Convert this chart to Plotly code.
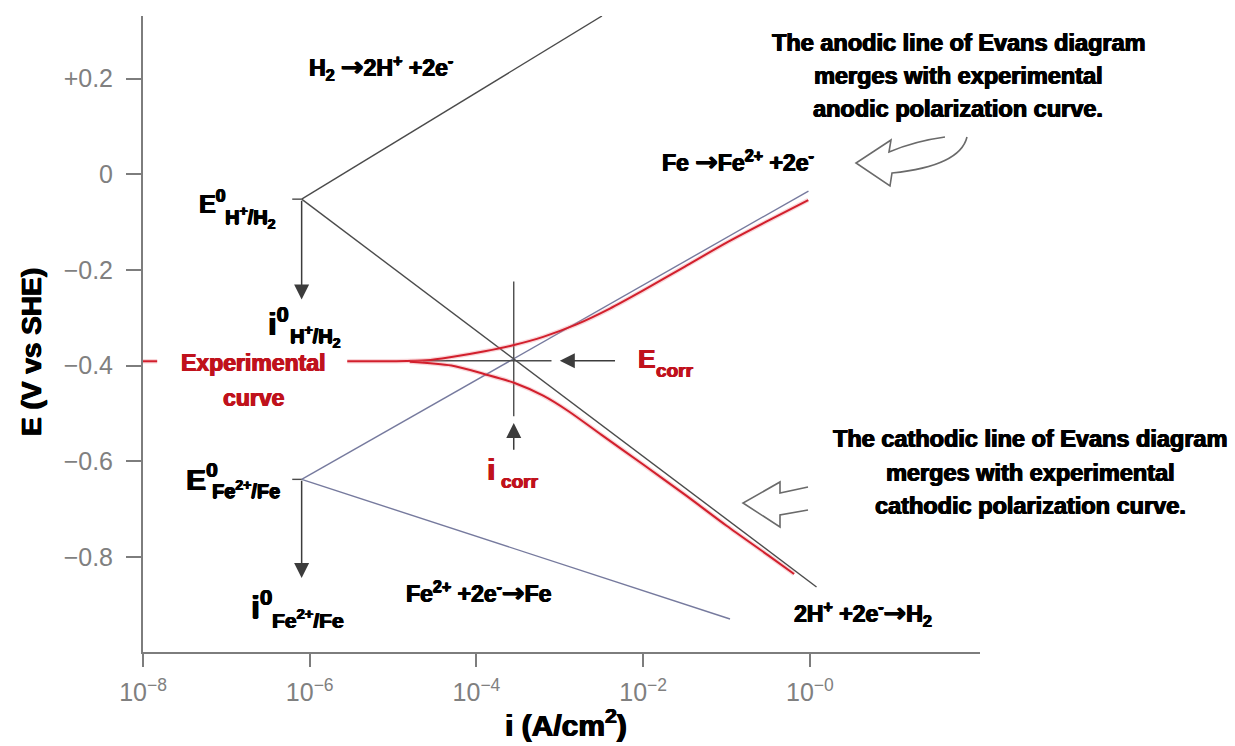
import math
import plotly.graph_objects as go

# ---- Evans diagram lines: current density (A/cm2) vs potential (V vs SHE) ----
h_anodic_i = [8.0e-7, 3.2e-3]
h_anodic_E = [-0.052, 0.331]
h_cathodic_i = [8.0e-7, 1.2]
h_cathodic_E = [-0.052, -0.863]
fe_anodic_i = [8.0e-7, 0.96]
fe_anodic_E = [-0.638, -0.035]
fe_cathodic_i = [8.0e-7, 0.11]
fe_cathodic_E = [-0.638, -0.930]

# exchange points and corrosion point
E0_H, i0_H = -0.052, 8.0e-7
E0_Fe, i0_Fe = -0.638, 8.0e-7
E_corr, i_corr = -0.39, 2.8e-4

# ---- experimental polarization curve (decade exponent of i, E) ----
# short visible stub left of the label, then the two branches
exp_stub_dec = [-8.0, -7.83]
exp_stub_E = [-0.391, -0.391]
exp_anodic_dec = [-5.55, -5.0, -4.6, -4.3, -3.9, -3.55, -3.2, -2.8, -2.4, -2.0, -1.5, -1.0, -0.5, -0.02]
exp_anodic_E = [-0.391, -0.391, -0.389, -0.382, -0.370, -0.357, -0.340, -0.314, -0.281, -0.243, -0.193, -0.143, -0.097, -0.054]
exp_cathodic_dec = [-4.8, -4.3, -3.9, -3.55, -3.2, -2.9, -2.5, -2.0, -1.5, -1.0, -0.5, -0.19]
exp_cathodic_E = [-0.392, -0.400, -0.418, -0.436, -0.463, -0.495, -0.545, -0.607, -0.670, -0.735, -0.797, -0.836]

# ---- axis ticks ----
x_tickvals = [1e-8, 1e-6, 1e-4, 1e-2, 1e0]
x_ticktext = ["10<sup>\u22128</sup>", "10<sup>\u22126</sup>", "10<sup>\u22124</sup>",
              "10<sup>\u22122</sup>", "10<sup>\u22120</sup>"]
y_tickvals = [0.2, 0.0, -0.2, -0.4, -0.6, -0.8]
y_ticktext = ["+0.2", "0", "\u22120.2", "\u22120.4", "\u22120.6", "\u22120.8"]

# ---- figure geometry ----
W, H = 1235, 746
ML, MR, MT, MB = 143, 255, 16, 94
PW, PH = W - ML - MR, H - MT - MB

LINE_H = "#4b4b4b"
LINE_FE = "#767a9e"
RED = "#d21f2c"
TXT_RED = "#c0121c"
AX = "#7d7d7d"
FONT = "'Liberation Sans', Arial, sans-serif"
TICKFONT = "'Liberation Sans', Arial, sans-serif"
ARW = '<span style="font-family:\'DejaVu Sans\';font-size:27px">\u2192</span>'


def px(x, y):
    """pixel position -> paper coordinates"""
    return (x - ML) / PW, (H - MB - y) / PH


def dec(vals):
    return [10 ** v for v in vals]


fig = go.Figure()


def line(xs, ys, color, width=1.4, shape="linear"):
    fig.add_trace(go.Scatter(x=xs, y=ys, mode="lines", hoverinfo="skip",
                             line=dict(color=color, width=width, shape=shape, smoothing=0.8)))


# Evans lines
line(h_anodic_i, h_anodic_E, LINE_H)
line(h_cathodic_i, h_cathodic_E, LINE_H)
line(fe_anodic_i, fe_anodic_E, LINE_FE)
line(fe_cathodic_i, fe_cathodic_E, LINE_FE)

# short ticks at the exchange points
line([10 ** -6.21, i0_H], [E0_H, E0_H], LINE_H)
line([10 ** -6.21, i0_Fe], [E0_Fe, E0_Fe], LINE_H)

# corrosion cross-hair
line([i_corr, i_corr], [-0.224, -0.506], LINE_H)
line([10 ** -4.64, 10 ** -3.10], [E_corr, E_corr], LINE_H)

# experimental curve: soft halo + red stroke
for xs, ys in [(dec(exp_stub_dec), exp_stub_E),
               (dec(exp_anodic_dec), exp_anodic_E),
               (dec(exp_cathodic_dec), exp_cathodic_E)]:
    line(xs, ys, "rgba(235,120,130,0.3)", 4.5, "spline")
    line(xs, ys, RED, 2, "spline")

ann = []


def arrow(x_tip, y_tip, x_tail, y_tail):
    ann.append(dict(x=math.log10(x_tip), y=y_tip, ax=math.log10(x_tail), ay=y_tail,
                    xref="x", yref="y", axref="x", ayref="y", text="", showarrow=True,
                    arrowhead=2, arrowsize=2.0, arrowwidth=1.5, arrowcolor="#3c3c3c"))


# exchange current arrows and corrosion pointers
arrow(i0_H, -0.262, i0_H, E0_H)
arrow(i0_Fe, -0.844, i0_Fe, E0_Fe)
arrow(i_corr, -0.520, i_corr, -0.579)
arrow(10 ** -3.0, E_corr, 10 ** -2.32, E_corr)


def label(text, x, y, size, color="#000000", xanchor="left", angle=0):
    xp, yp = px(x, y)
    glow = "0.7px 0 0 {c}, -0.6px 0 0 {c}, 0 0.4px 0 {c}".format(c=color)
    ann.append(dict(text="<b>%s</b>" % text, x=xp, y=yp, xref="paper", yref="paper",
                    xanchor=xanchor, yanchor="middle", showarrow=False, textangle=angle,
                    font=dict(family=FONT, size=size, color=color, shadow=glow)))


# red label over the flat part of the curve
label("Experimental", 253, 363, 23, TXT_RED, "center")
label("curve", 253, 398, 23, TXT_RED, "center")

# reaction labels
label("H<sub>2</sub> %s2H<sup>+</sup> +2e<sup>-</sup>" % ARW, 307, 68, 23)
label("Fe %sFe<sup>2+</sup> +2e<sup>-</sup>" % ARW, 660, 162, 23)
label("Fe<sup>2+</sup> +2e<sup>-</sup>%sFe" % ARW, 404, 592, 23)
label("2H<sup>+</sup> +2e<sup>-</sup>%sH<sub>2</sub>" % ARW, 792, 613, 23)

# standard potentials / exchange current densities
label("E<sup>0</sup>", 197, 202, 25)
label("H<sup>+</sup>/H<sub>2</sub>", 223, 217, 20)
label("i<sup>0</sup>", 266, 322, 31)
label("H<sup>+</sup>/H<sub>2</sub>", 288, 336, 20)
label("E<sup>0</sup>", 184, 477, 30)
label("Fe<sup>2+</sup>/Fe", 210, 490, 20)
label("i<sup>0</sup>", 249, 605, 32)
label("Fe<sup>2+</sup>/Fe", 270, 619, 21)

# corrosion potential / current
label("E", 636, 359, 26, TXT_RED)
label("corr", 654, 370, 19, TXT_RED)
label("i", 485, 470, 30, TXT_RED)
label("corr", 499, 481, 19, TXT_RED)

# explanatory notes
for txt, yy in [("The anodic line of Evans diagram", 43),
                ("merges with experimental", 76),
                ("anodic polarization curve.", 109)]:
    label(txt, 958, yy, 23.5, xanchor="center")
for txt, yy in [("The cathodic line of Evans diagram", 439),
                ("merges with experimental", 473),
                ("cathodic polarization curve.", 506)]:
    label(txt, 1030, yy, 23.5, xanchor="center")

# axis titles
label("E (V vs SHE)", 31, 352, 28, xanchor="center", angle=-90)
label("i (A/cm<sup>2</sup>)", 566, 723, 30, xanchor="center")


# hollow callout arrows
def path(points):
    s = ""
    for cmd, pts in points:
        coords = " ".join("%.5f,%.5f" % px(a, b) for a, b in pts)
        s += "%s %s " % (cmd, coords)
    return s.strip()


anodic_callout = path([("M", [(945, 137)]), ("Q", [(915, 141), (889, 152)]),
                       ("L", [(891, 140)]), ("L", [(856, 163)]), ("L", [(890, 186)]),
                       ("L", [(892, 173)]), ("Q", [(960, 166), (967, 137)])])
cathodic_callout = path([("M", [(808, 487)]), ("L", [(780, 493)]), ("L", [(780, 482)]),
                         ("L", [(743, 503)]), ("L", [(780, 527)]), ("L", [(780, 515)]),
                         ("L", [(808, 510)])])
shapes = [dict(type="path", path=p, xref="paper", yref="paper",
               line=dict(color="#6a6a6a", width=1.6), layer="above")
          for p in (anodic_callout, cathodic_callout)]

fig.update_layout(
    width=W, height=H, margin=dict(l=ML, r=MR, t=MT, b=MB),
    paper_bgcolor="white", plot_bgcolor="white", showlegend=False,
    annotations=ann, shapes=shapes,
    xaxis=dict(type="log", range=[-8, 2.04], showgrid=False, zeroline=False,
               showline=True, linecolor=AX, linewidth=2,
               ticks="outside", ticklen=13, tickwidth=2, tickcolor=AX,
               tickvals=x_tickvals, ticktext=x_ticktext, ticklabelstandoff=4,
               tickfont=dict(family=TICKFONT, size=25, color="#808080")),
    yaxis=dict(range=[-0.999, 0.331], showgrid=False, zeroline=False,
               showline=True, linecolor=AX, linewidth=2,
               ticks="outside", ticklen=15, tickwidth=2, tickcolor=AX,
               tickvals=y_tickvals, ticktext=y_ticktext, ticklabelstandoff=8,
               tickfont=dict(family=TICKFONT, size=25, color="#808080")),
)

fig.write_html("out.html")
